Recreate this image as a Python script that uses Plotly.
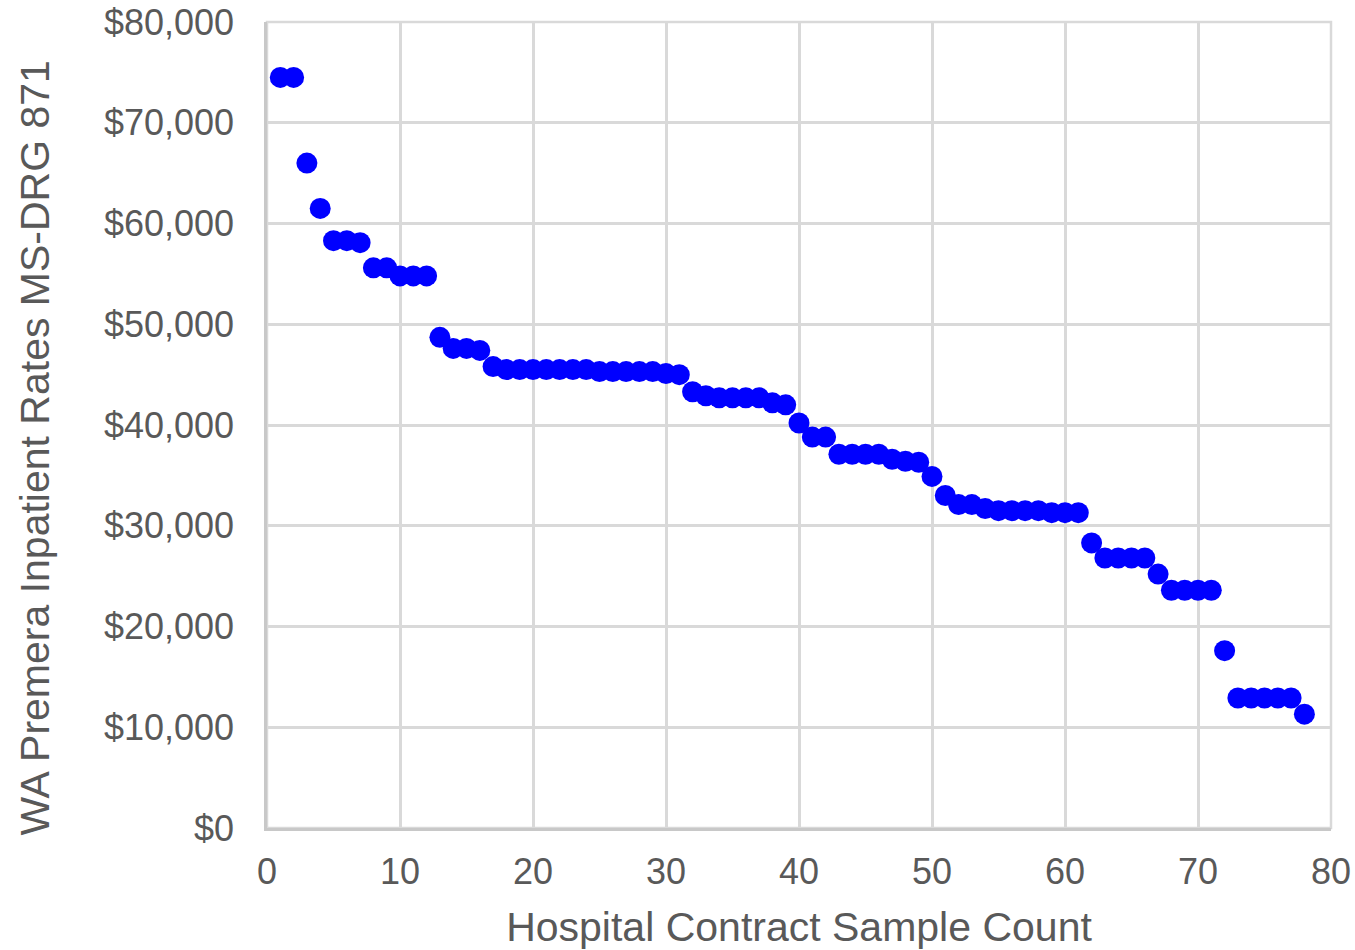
import plotly.graph_objects as go

sample_count = list(range(1, 79))

rates = [74500, 74500, 66000, 61500, 58300, 58300, 58100, 55600, 55600, 54800,
         54800, 54800, 48700, 47600, 47600, 47400, 45800, 45500, 45500, 45500,
         45500, 45500, 45500, 45500, 45300, 45300, 45300, 45300, 45300, 45100,
         45000, 43300, 42900, 42700, 42700, 42700, 42700, 42200, 42000, 40200,
         38800, 38800, 37100, 37100, 37100, 37100, 36600, 36400, 36300, 34900,
         33000, 32100, 32100, 31700, 31500, 31500, 31500, 31500, 31300, 31300,
         31300, 28300, 26800, 26800, 26800, 26800, 25200, 23600, 23600, 23600,
         23600, 17600, 12900, 12900, 12900, 12900, 12900, 11300]

font_color = "#595959"
grid_color = "#d9d9d9"
axis_color = "#c8c8c8"

fig = go.Figure()

fig.add_trace(
    go.Scatter(x=sample_count,
               y=rates,
               mode='markers',
               marker=dict(color='#0000ff', size=21),
               showlegend=False)
)

fig.update_xaxes(title_text="Hospital Contract Sample Count",
                 title_font=dict(size=41, color=font_color),
                 title_standoff=28,
                 automargin=False,
                 range=[0, 80],
                 dtick=10,
                 tickfont=dict(size=36, color=font_color),
                 ticklabelstandoff=10,
                 ticklabeloverflow="allow",
                 showgrid=True,
                 gridcolor=grid_color,
                 gridwidth=2.5,
                 showline=True,
                 linecolor=axis_color,
                 linewidth=2.5,
                 zeroline=False)

fig.update_yaxes(automargin=False,
                 range=[0, 80000],
                 dtick=10000,
                 tickprefix="$",
                 tickformat=",",
                 tickfont=dict(size=36, color=font_color),
                 ticklabelstandoff=23,
                 ticklabeloverflow="allow",
                 showgrid=True,
                 gridcolor=grid_color,
                 gridwidth=2.5,
                 showline=True,
                 linecolor=axis_color,
                 linewidth=2.5,
                 zeroline=False)

# y title sits a little below the middle of the plot in the original
fig.add_annotation(text="WA Premera Inpatient Rates MS-DRG 871",
                   xref="paper", yref="paper",
                   x=-0.218, y=0.472,
                   xanchor="center", yanchor="middle",
                   textangle=-90,
                   showarrow=False,
                   font=dict(size=41, color=font_color))

# light frame for the top and right edges (plotly skips the edge gridlines)
fig.add_shape(type="rect", xref="paper", yref="paper",
              x0=0, x1=1, y0=0, y1=1,
              line=dict(color=grid_color, width=2.5),
              layer="below")

fig.update_layout(width=1355,
                  height=950,
                  font=dict(family="Liberation Sans, Arial, sans-serif", color=font_color),
                  plot_bgcolor="white",
                  paper_bgcolor="white",
                  margin=dict(l=267, r=24, t=22, b=122))

# drop the default 8px body margin so the figure fills the window
fig.write_html("out.html",
               config={"displayModeBar": False},
               post_script="document.body.style.margin='0';")
